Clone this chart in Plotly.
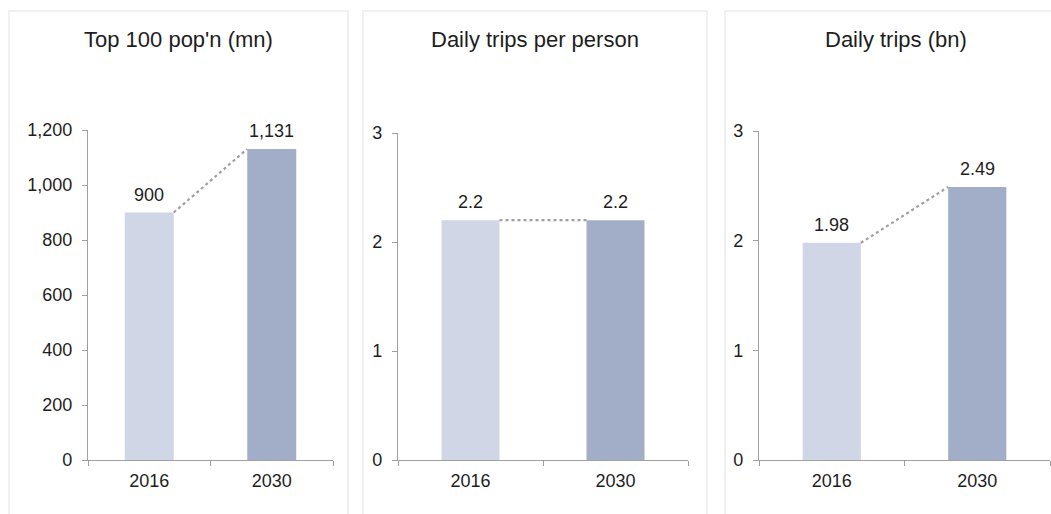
import plotly.graph_objects as go

# ---- data ----
years = ["2016", "2030"]
titles = ["Top 100 pop'n (mn)", "Daily trips per person", "Daily trips (bn)"]
pop_mn = [900, 1131]
trips_per_person = [2.2, 2.2]
trips_bn = [1.98, 2.49]
label_pop = ["900", "1,131"]
label_tpp = ["2.2", "2.2"]
label_tbn = ["1.98", "2.49"]
yranges = [[0, 1200], [0, 3], [0, 3]]
ydtick = [200, 1, 1]

W, H = 1051, 514
bar_colors = ["#d0d6e6", "#a2adc8"]
axis_col = "#a0a0a0"
text_col = "#1e1e1e"
FONT = "Liberation Sans, Arial, sans-serif"

series = [pop_mn, trips_per_person, trips_bn]
labels = [label_pop, label_tpp, label_tbn]

# pixel geometry of the panels
xdom_px = [(88, 333), (398, 688), (759, 1050)]
ytop_px = [130, 133, 131]
yzero_px = 460
frames_px = [(9, 348), (363, 707), (725, 1060)]
title_cx = [178, 535, 896]

fig = go.Figure()
xpos = [0, 1]
for i in range(3):
    n = "" if i == 0 else str(i + 1)
    xa, ya = "x" + n, "y" + n
    fig.add_trace(go.Bar(
        x=xpos, y=series[i], width=0.4, marker=dict(color=bar_colors, line=dict(width=0)),
        xaxis=xa, yaxis=ya, hoverinfo="skip", showlegend=False))
    # dotted connector from bar 1 right top to bar 2 left top
    fig.add_trace(go.Scatter(
        x=[xpos[0] + 0.2, xpos[1] - 0.2], y=series[i], mode="lines",
        line=dict(color="#a0a0a0", width=2.2, dash="dot"),
        xaxis=xa, yaxis=ya, hoverinfo="skip", showlegend=False))
    for j in range(2):
        fig.add_annotation(x=xpos[j], y=series[i][j], xref=xa, yref=ya,
                           text=labels[i][j], showarrow=False, yanchor="bottom",
                           yshift=6, font=dict(size=18, color=text_col, family=FONT))
    x0, x1 = xdom_px[i]
    fig.layout["xaxis" + n] = dict(
        domain=[x0 / W, x1 / W], range=[-0.5, 1.5], anchor=ya, automargin=False,
        tickvals=xpos, ticktext=years, ticks="", showgrid=False, zeroline=False,
        showline=True, linecolor=axis_col, linewidth=1.4,
        tickfont=dict(size=18, color=text_col, family=FONT),
        minor=dict(tickvals=[-0.5, 0.5, 1.5], ticks="outside", ticklen=5,
                   tickcolor=axis_col, tickwidth=1.4, showgrid=False),
        ticklabelstandoff=4, fixedrange=True)
    fig.layout["yaxis" + n] = dict(
        domain=[1 - yzero_px / H, 1 - ytop_px[i] / H], range=yranges[i], anchor=xa,
        automargin=False,
        dtick=ydtick[i], tick0=0, tickformat=",", ticks="outside", ticklen=5,
        tickcolor=axis_col, tickwidth=1.4, showgrid=False, zeroline=False,
        showline=True, linecolor=axis_col, linewidth=1.4,
        tickfont=dict(size=18, color=text_col, family=FONT),
        ticklabelstandoff=6, fixedrange=True)
    f0, f1 = frames_px[i]
    fig.add_shape(type="rect", xref="paper", yref="paper",
                  x0=f0 / W, x1=f1 / W, y0=-0.05, y1=1 - 11 / H,
                  line=dict(color="#ececec", width=1.5), layer="below")
    fig.add_annotation(x=title_cx[i] / W, y=1 - 40 / H, xref="paper", yref="paper",
                       text=titles[i], showarrow=False, xanchor="center", yanchor="middle",
                       font=dict(size=22, color=text_col, family=FONT))

fig.update_layout(
    template="none",
    width=W, height=H, margin=dict(l=0, r=0, t=0, b=0, pad=0, autoexpand=False),
    paper_bgcolor="white", plot_bgcolor="rgba(0,0,0,0)",
    font=dict(family=FONT, color=text_col), bargap=0.6, showlegend=False,
)
fig.write_html("out.html", config={"displayModeBar": False},
               post_script="document.body.style.margin='0';document.body.style.overflow='hidden';")
